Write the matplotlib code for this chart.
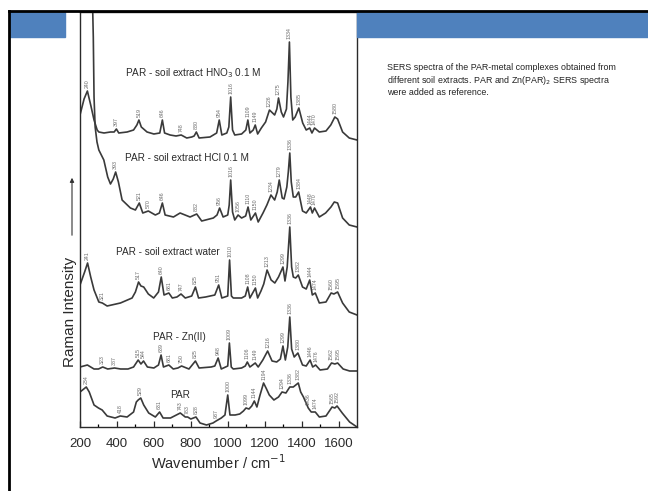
import numpy as np
import matplotlib.pyplot as plt
from matplotlib.patches import Rectangle
from matplotlib.lines import Line2D

plt.rcParams['font.family'] = ['Liberation Sans', 'DejaVu Sans']

# spectra (wavenumber / cm-1, intensity in plot units)
hno3_wn = [200, 222, 240, 258, 276, 293, 302, 330, 365, 385, 397, 410, 455, 490, 508, 519, 532, 563, 600, 632, 646, 658, 688,
           720, 748, 778, 805, 818, 830, 845, 904, 940, 954, 968, 995, 1006, 1016, 1026, 1038, 1075, 1098, 1109, 1120, 1138,
           1149, 1162, 1182, 1205, 1226, 1254, 1266, 1275, 1290, 1302, 1318, 1326, 1334, 1342, 1352, 1365, 1385, 1406, 1425,
           1444, 1456, 1470, 1496, 1532, 1558, 1580, 1595, 1622, 1658, 1700]
hno3_int = [312, 328, 336, 322, 307, 297, 295, 294, 295, 295, 298, 294, 295, 297, 302, 307, 300, 295, 293, 294, 307, 294, 292,
            291, 292, 289, 290, 291, 295, 289, 290, 294, 307, 292, 294, 300, 330, 297, 292, 293, 297, 307, 294, 297,
            302, 293, 299, 305, 317, 312, 318, 329, 315, 310, 318, 345, 385, 330, 307, 310, 319, 304, 297,
            299, 294, 299, 295, 296, 302, 310, 308, 295, 289, 287]
hno3_pk = [240, 397, 519, 646, 748, 830, 954, 1016, 1109, 1149, 1226, 1275, 1334, 1385, 1444, 1470, 1580]

hcl_wn = [266, 272, 276, 282, 292, 302, 329, 350, 365, 380, 393, 408, 428, 473, 500, 521, 540, 570, 608, 630, 646, 661, 706,
          742, 796, 832, 859, 922, 942, 956, 975, 1000, 1008, 1016, 1026, 1038, 1056, 1075, 1097, 1110, 1125, 1150, 1165,
          1191, 1212, 1234, 1254, 1268, 1279, 1295, 1305, 1320, 1328, 1336, 1344, 1355, 1368, 1384, 1405, 1425, 1448, 1458,
          1470, 1496, 1530, 1559, 1577, 1595, 1622, 1658, 1700]
hcl_int = [440, 390, 330, 300, 285, 277, 267, 250, 243, 248, 255, 245, 227, 219, 217, 224, 214, 216, 212, 214, 224, 212, 210,
           214, 210, 213, 206, 209, 212, 219, 210, 212, 222, 247, 215, 207, 212, 209, 211, 220, 207, 214, 205,
           214, 222, 232, 227, 235, 247, 229, 228, 240, 255, 274, 245, 230, 230, 235, 216, 214, 220, 214,
           219, 210, 214, 220, 225, 224, 209, 202, 200]
hcl_pk = [393, 521, 570, 646, 832, 956, 1056, 1016, 1110, 1150, 1234, 1279, 1336, 1384, 1448, 1470]

water_wn = [200, 225, 241, 258, 276, 302, 321, 347, 419, 482, 500, 517, 530, 545, 570, 599, 625, 640, 655, 681, 700, 725, 747,
            770, 805, 825, 842, 880, 930, 951, 968, 1000, 1010, 1020, 1030, 1075, 1095, 1108, 1120, 1150, 1162, 1180, 1195,
            1213, 1235, 1255, 1275, 1299, 1310, 1322, 1336, 1346, 1355, 1368, 1382, 1405, 1425, 1444, 1458, 1474, 1496,
            1532, 1560, 1575, 1595, 1622, 1658, 1700]
water_int = [142, 155, 164, 150, 137, 125, 124, 121, 124, 129, 135, 145, 141, 140, 133, 129, 135, 150, 132, 134, 129, 130, 133,
             129, 131, 140, 129, 130, 132, 142, 129, 131, 167, 131, 129, 129, 131, 140, 129, 139, 129, 136, 143,
             157, 147, 144, 150, 160, 146, 160, 200, 160, 150, 149, 152, 140, 138, 147, 132, 134, 124,
             125, 134, 133, 135, 124, 115, 112]
water_pk = [241, 321, 517, 640, 681, 747, 825, 951, 1010, 1108, 1150, 1213, 1299, 1336, 1382, 1444, 1474, 1560, 1595]

zn_wn = [200, 240, 276, 300, 323, 350, 387, 420, 460, 490, 515, 530, 544, 565, 600, 625, 639, 652, 681, 705, 730, 750, 790,
         825, 845, 910, 930, 948, 965, 1000, 1009, 1019, 1030, 1075, 1095, 1106, 1120, 1149, 1165, 1190, 1216, 1240, 1265,
         1285, 1299, 1312, 1325, 1336, 1346, 1360, 1380, 1405, 1425, 1446, 1460, 1476, 1500, 1540, 1562, 1580, 1595, 1625,
         1660, 1700]
zn_int = [60, 62, 58, 58, 60, 58, 59, 58, 58, 60, 67, 63, 66, 60, 59, 62, 72, 60, 62, 58, 59, 61, 58,
          66, 59, 60, 61, 69, 58, 61, 84, 60, 58, 59, 61, 65, 60, 64, 60, 67, 76, 66, 65,
          68, 81, 67, 80, 110, 78, 70, 74, 62, 61, 67, 60, 62, 57, 58, 64, 63, 64, 58,
          56, 56]
zn_pk = [323, 387, 515, 544, 639, 681, 750, 825, 948, 1009, 1106, 1149, 1216, 1299, 1336, 1380, 1446, 1476, 1562, 1595]

par_wn = [200, 234, 250, 276, 300, 320, 347, 390, 418, 455, 490, 505, 515, 529, 545, 572, 608, 631, 650, 690, 743, 770, 783,
          800, 828, 850, 885, 920, 937, 965, 985, 1000, 1012, 1040, 1065, 1085, 1099, 1115, 1130, 1144, 1158, 1175, 1194,
          1210, 1225, 1250, 1275, 1294, 1315, 1336, 1355, 1382, 1395, 1410, 1436, 1452, 1474, 1496, 1532, 1565, 1580, 1592,
          1620, 1660, 1700]
par_int = [35, 40, 35, 22, 19, 17, 11, 9, 11, 10, 15, 25, 27, 29, 22, 14, 10, 15, 9, 9, 14, 10, 10,
           8, 10, 4, 2, 4, 6, 9, 12, 32, 12, 12, 13, 16, 19, 18, 21, 26, 20, 32, 44,
           38, 32, 27, 30, 35, 34, 40, 40, 44, 35, 30, 19, 15, 15, 10, 11, 20, 19, 21,
           14, 5, 0]
par_pk = [234, 418, 529, 631, 743, 783, 828, 937, 1000, 1099, 1144, 1194, 1294, 1336, 1382, 1436, 1474, 1565, 1592]

names = ['PAR - soil extract HNO$_3$ 0.1 M', 'PAR - soil extract HCl 0.1 M', 'PAR - soil extract water',
         'PAR - Zn(II)', 'PAR']
name_pos = [(441, 354), (446, 269), (393, 175), (598, 90), (689, 32)]

spectra = [(hno3_wn, hno3_int, hno3_pk), (hcl_wn, hcl_int, hcl_pk), (water_wn, water_int, water_pk),
           (zn_wn, zn_int, zn_pk), (par_wn, par_int, par_pk)]

fig = plt.figure(figsize=(6.48, 4.91), dpi=100)
W, H = 648, 491

# slide decoration
fig.patches.append(Rectangle((10 / W, 1 - 37 / H), 55 / W, 25 / H, transform=fig.transFigure, color='#4f81bd', zorder=0))
fig.patches.append(Rectangle((357 / W, 1 - 37 / H), 291 / W, 25 / H, transform=fig.transFigure, color='#4f81bd', zorder=0))
fig.add_artist(Line2D([9 / W, 1], [1 - 11 / H, 1 - 11 / H], transform=fig.transFigure, color='black', lw=2))
fig.add_artist(Line2D([9 / W, 9 / W], [0, 1 - 11 / H], transform=fig.transFigure, color='black', lw=2))

ax = fig.add_axes([80 / W, 64 / H, 277 / W, 415 / H])
for wn, inten, pks in spectra:
    wn = np.array(wn)
    inten = np.array(inten)
    ax.plot(wn, inten, color='#3a3a3a', lw=1.2)
    for p in pks:
        m = np.abs(wn - p) <= 10
        top = inten[m].max() if m.any() else np.interp(p, wn, inten)
        ax.text(p, top + 3, str(p), rotation=90, fontsize=3.8, color='#6a6a6a', ha='center', va='bottom')

for n, (x, y) in zip(names, name_pos):
    ax.text(x, y, n, fontsize=7.2, color='#2a2a2a', ha='left', va='center')

ax.set_xlim(200, 1700)
ax.set_ylim(0, 415)
ax.set_yticks([])
ax.set_xticks(np.arange(200, 1601, 200))
ax.set_xticks(np.arange(300, 1700, 200), minor=True)
ax.tick_params(axis='x', direction='in', length=4, width=0.9, labelsize=9.5, colors='#2a2a2a', pad=8)
ax.tick_params(axis='x', which='minor', direction='in', length=2, width=0.9)
for s in ax.spines.values():
    s.set_color('#2a2a2a')
    s.set_linewidth(1.0)
ax.set_xlabel('Wavenumber / cm$^{-1}$', fontsize=10.5, color='#2a2a2a', labelpad=2)

fig.text(70 / W, 1 - 312 / H, 'Raman Intensity', rotation=90, fontsize=11, color='#2a2a2a', ha='center', va='center')
ax.annotate('', xy=(72, H - 175), xytext=(72, H - 238), xycoords='figure pixels', textcoords='figure pixels',
            arrowprops=dict(arrowstyle='-|>', color='#333333', lw=0.8, mutation_scale=6), annotation_clip=False)

fig.text(387 / W, 1 - 80 / H,
         'SERS spectra of the PAR-metal complexes obtained from\n'
         'different soil extracts. PAR and Zn(PAR)$_2$ SERS spectra\n'
         'were added as reference.', fontsize=6.4, color='#222222', ha='left', va='center', linespacing=1.2)

fig.savefig('out.png', dpi=100)
